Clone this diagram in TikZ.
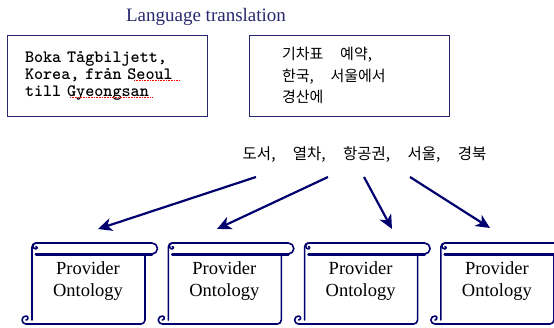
\documentclass[tikz,border=0pt]{standalone}
\usepackage{fontspec}
\setmainfont{Liberation Serif}
\newfontfamily\krfont[WordSpace=5]{Noto Sans CJK KR}
\usetikzlibrary{arrows.meta}
\definecolor{navy}{RGB}{0,0,110}
\definecolor{boxline}{RGB}{40,40,110}

\begin{document}
\begin{tikzpicture}[x=1pt,y=1pt,
  box/.style={draw=boxline,line width=1pt,minimum width=200,minimum height=81,align=left},
  scroll/.style={draw=navy,line width=1.6pt,line join=round,line cap=round},
  arr/.style={draw=navy,line width=2.2pt,-{Stealth[length=14pt,width=13pt,inset=4pt]}},
  prov/.style={font=\fontsize{18.5}{22}\selectfont,align=center,inner sep=0}]
\clip (0,0) rectangle (554,-327);
\useasboundingbox (0,0) rectangle (554,-327);

\node[text=boxline,font=\fontsize{19}{20}\selectfont] (title) at (206,-17) {Language translation};
\node[box,text width=164,inner xsep=18,font=\ttfamily\bfseries\fontsize{17.3}{17}\selectfont] (sv) at (107,-75.5)
  {Boka Tågbiljett,\\Korea, från Seoul\\till Gyeongsan};
\node[box,text width=134,inner xsep=33,font=\krfont\fontsize{15}{21.5}\selectfont] (ko) at (349,-75.5)
  {\spaceskip=0pt\relax 기차표 예약,\\한국, 서울에서\\경산에};
\draw[red,densely dotted,line width=0.6pt] (134,-80) -- (180,-80) (70,-97) -- (153,-97);

\node[font=\krfont\fontsize{15.5}{18}\selectfont,inner sep=0] (kw) at (364.5,-155) {도서, 열차, 항공권, 서울, 경북};

\foreach \i in {0,...,3}{%
  \begin{scope}[xshift={32+136.3*\i}]
  \draw[scroll] (0,-320) -- (0,-247) arc(180:90:4) -- (120,-243) arc(90:-90:5.5) -- (4,-254);
  \draw[scroll,line width=3pt] (4,-254) -- (120,-254);
  \draw[scroll] (4,-243) arc(90:270:3) arc(-90:90:1.3);
  \draw[scroll] (113,-254) -- (113,-320) arc(0:-90:4) -- (-6,-324) arc(-90:-270:4) arc(90:-90:2);
  \node[prov] (p\i) at (56,-281) {Provider\\Ontology};
  \end{scope}}

\foreach \sx/\tx/\ty [count=\k] in {256/98/229, 328/217/229, 364/392/229, 410/490/228}{%
  \coordinate (from\k) at (\sx,-177);
  \coordinate (to\k) at (\tx,-\ty);
  \draw[arr] (from\k) -- (to\k);}
\end{tikzpicture}
\end{document}
